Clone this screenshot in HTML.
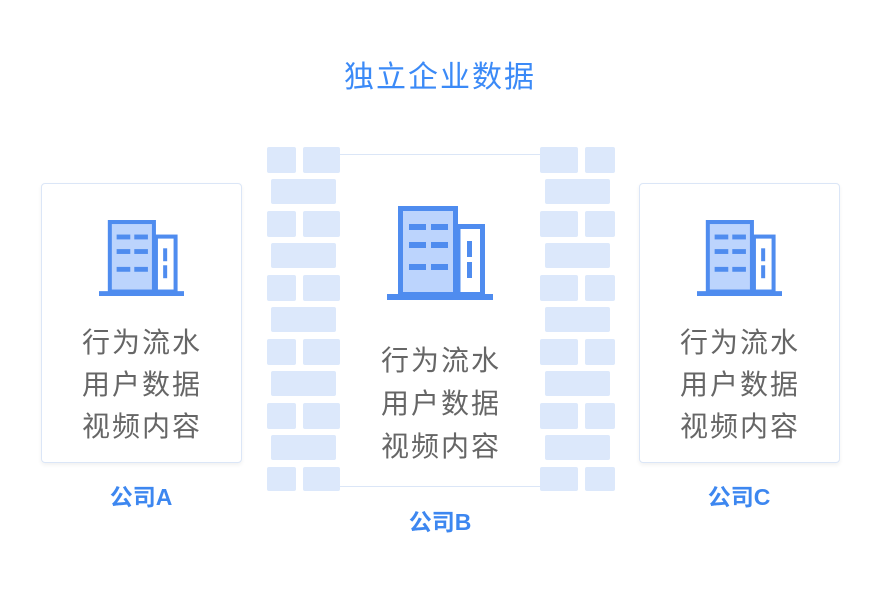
<!DOCTYPE html>
<html><head><meta charset="utf-8"><style>
body{margin:0;width:880px;height:590px;background:#fff;position:relative;overflow:hidden;font-family:"Liberation Sans","Noto Sans CJK SC",sans-serif}
.a{position:absolute}
.b{position:absolute;background:#dce8fb;border-radius:2px}
.card{position:absolute;background:#fff;border:1px solid #dbe6f7;border-radius:4px;box-shadow:0 2px 4px rgba(0,0,0,0.06)}
.t{position:absolute;color:#666;font-size:28px;line-height:42px;text-align:center;letter-spacing:2px;width:200px}
.lab{position:absolute;color:#3d87f0;font-weight:bold;font-size:23px;text-align:center;width:200px}
</style></head><body>
<div class="a" style="left:340px;top:58px;width:200px;text-align:center;color:#3b8af7;font-size:30px;letter-spacing:2px;line-height:40px">独立企业数据</div>

<div class="card" style="left:41px;top:183px;width:199px;height:278px"></div>
<div class="card" style="left:639px;top:183px;width:199px;height:278px"></div>
<div class="a" style="left:340px;top:154px;width:200px;height:331px;border-top:1.5px solid #dbe6f7;border-bottom:1.5px solid #dbe6f7"></div>

<!-- left bricks -->
<div class="b" style="left:267px;top:147px;width:29px;height:26px"></div><div class="b" style="left:303px;top:147px;width:37px;height:26px"></div>
<div class="b" style="left:271px;top:179px;width:65px;height:25px"></div>
<div class="b" style="left:267px;top:211px;width:29px;height:26px"></div><div class="b" style="left:303px;top:211px;width:37px;height:26px"></div>
<div class="b" style="left:271px;top:243px;width:65px;height:25px"></div>
<div class="b" style="left:267px;top:275px;width:29px;height:26px"></div><div class="b" style="left:303px;top:275px;width:37px;height:26px"></div>
<div class="b" style="left:271px;top:307px;width:65px;height:25px"></div>
<div class="b" style="left:267px;top:339px;width:29px;height:26px"></div><div class="b" style="left:303px;top:339px;width:37px;height:26px"></div>
<div class="b" style="left:271px;top:371px;width:65px;height:25px"></div>
<div class="b" style="left:267px;top:403px;width:29px;height:26px"></div><div class="b" style="left:303px;top:403px;width:37px;height:26px"></div>
<div class="b" style="left:271px;top:435px;width:65px;height:25px"></div>
<div class="b" style="left:267px;top:467px;width:29px;height:24px"></div><div class="b" style="left:303px;top:467px;width:37px;height:24px"></div>
<!-- right bricks -->
<div class="b" style="left:540px;top:147px;width:38px;height:26px"></div><div class="b" style="left:585px;top:147px;width:30px;height:26px"></div>
<div class="b" style="left:545px;top:179px;width:65px;height:25px"></div>
<div class="b" style="left:540px;top:211px;width:38px;height:26px"></div><div class="b" style="left:585px;top:211px;width:30px;height:26px"></div>
<div class="b" style="left:545px;top:243px;width:65px;height:25px"></div>
<div class="b" style="left:540px;top:275px;width:38px;height:26px"></div><div class="b" style="left:585px;top:275px;width:30px;height:26px"></div>
<div class="b" style="left:545px;top:307px;width:65px;height:25px"></div>
<div class="b" style="left:540px;top:339px;width:38px;height:26px"></div><div class="b" style="left:585px;top:339px;width:30px;height:26px"></div>
<div class="b" style="left:545px;top:371px;width:65px;height:25px"></div>
<div class="b" style="left:540px;top:403px;width:38px;height:26px"></div><div class="b" style="left:585px;top:403px;width:30px;height:26px"></div>
<div class="b" style="left:545px;top:435px;width:65px;height:25px"></div>
<div class="b" style="left:540px;top:467px;width:38px;height:24px"></div><div class="b" style="left:585px;top:467px;width:30px;height:24px"></div>

<svg class="a" style="left:387px;top:206px" width="106" height="94" viewBox="0 0 106 94">
<rect x="13.5" y="2.5" width="55" height="86" fill="#bcd4fd" stroke="#4f8cef" stroke-width="5"/>
<rect x="71" y="20.5" width="24.5" height="68" fill="#fff" stroke="#4f8cef" stroke-width="5"/>
<rect x="0" y="88" width="106" height="6" fill="#4f8cef"/>
<g fill="#4f8cef"><rect x="22" y="18" width="17" height="6"/><rect x="44" y="18" width="17" height="6"/><rect x="22" y="36" width="17" height="6"/><rect x="44" y="36" width="17" height="6"/><rect x="22" y="58" width="17" height="6"/><rect x="44" y="58" width="17" height="6"/><rect x="80" y="35" width="5" height="16"/><rect x="80" y="56" width="5" height="16"/></g>
</svg>
<svg class="a" style="left:99px;top:220px" width="85" height="76" viewBox="0 0 106 94" preserveAspectRatio="none">
<rect x="13.5" y="2.5" width="55" height="86" fill="#bcd4fd" stroke="#4f8cef" stroke-width="5"/>
<rect x="71" y="20.5" width="24.5" height="68" fill="#fff" stroke="#4f8cef" stroke-width="5"/>
<rect x="0" y="88" width="106" height="6" fill="#4f8cef"/>
<g fill="#4f8cef"><rect x="22" y="18" width="17" height="6"/><rect x="44" y="18" width="17" height="6"/><rect x="22" y="36" width="17" height="6"/><rect x="44" y="36" width="17" height="6"/><rect x="22" y="58" width="17" height="6"/><rect x="44" y="58" width="17" height="6"/><rect x="80" y="35" width="5" height="16"/><rect x="80" y="56" width="5" height="16"/></g>
</svg>
<svg class="a" style="left:697px;top:220px" width="85" height="76" viewBox="0 0 106 94" preserveAspectRatio="none">
<rect x="13.5" y="2.5" width="55" height="86" fill="#bcd4fd" stroke="#4f8cef" stroke-width="5"/>
<rect x="71" y="20.5" width="24.5" height="68" fill="#fff" stroke="#4f8cef" stroke-width="5"/>
<rect x="0" y="88" width="106" height="6" fill="#4f8cef"/>
<g fill="#4f8cef"><rect x="22" y="18" width="17" height="6"/><rect x="44" y="18" width="17" height="6"/><rect x="22" y="36" width="17" height="6"/><rect x="44" y="36" width="17" height="6"/><rect x="22" y="58" width="17" height="6"/><rect x="44" y="58" width="17" height="6"/><rect x="80" y="35" width="5" height="16"/><rect x="80" y="56" width="5" height="16"/></g>
</svg>

<div class="t" style="left:42px;top:322px">行为流水<br>用户数据<br>视频内容</div>
<div class="t" style="left:341px;top:339px;line-height:43px">行为流水<br>用户数据<br>视频内容</div>
<div class="t" style="left:640px;top:322px">行为流水<br>用户数据<br>视频内容</div>

<div class="lab" style="left:41px;top:478px">公司A</div>
<div class="lab" style="left:340px;top:503px">公司B</div>
<div class="lab" style="left:639px;top:478px">公司C</div>
</body></html>
